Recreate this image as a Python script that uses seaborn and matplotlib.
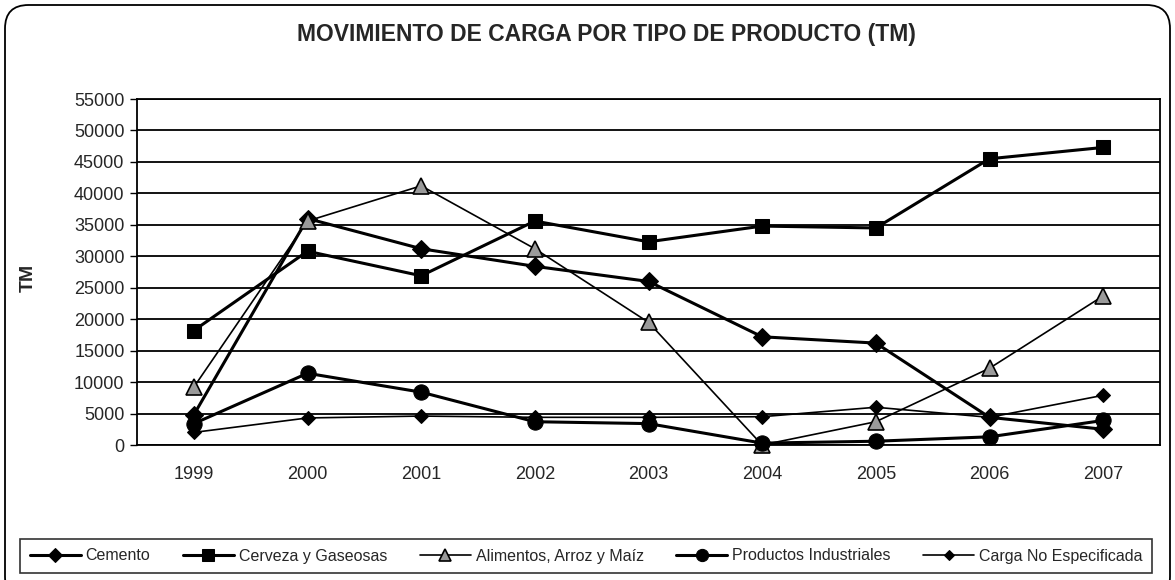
import numpy as np
import seaborn as sns
import matplotlib.pyplot as plt
from matplotlib.patches import FancyBboxPatch
from matplotlib.ticker import FixedLocator

sns.set_style("white")
plt.rcParams["font.family"] = ["Liberation Sans", "DejaVu Sans"]

years = ["1999", "2000", "2001", "2002", "2003", "2004", "2005", "2006", "2007"]
cemento = [4800, 36000, 31200, 28400, 26000, 17200, 16200, 4400, 2500]
cerveza = [18200, 30800, 26900, 35600, 32300, 34800, 34500, 45500, 47300]
alimentos = [9200, 35600, 41200, 31200, 19500, 0, 3700, 12200, 23700]
productos = [3400, 11400, 8400, 3700, 3400, 300, 600, 1300, 3900]
carga = [2000, 4300, 4600, 4400, 4400, 4500, 6000, 4400, 7900]

series = [
    ("Cemento", cemento, dict(marker="D", ms=9, lw=2.2, mfc="black", mec="black")),
    ("Cerveza y Gaseosas", cerveza, dict(marker="s", ms=10, lw=2.2, mfc="black", mec="black")),
    ("Alimentos, Arroz y Maíz", alimentos, dict(marker="^", ms=11, lw=1.2, mfc="#9a9a9a", mec="black", mew=1.2)),
    ("Productos Industriales", productos, dict(marker="o", ms=11, lw=2.2, mfc="black", mec="black")),
    ("Carga No Especificada", carga, dict(marker="D", ms=7, lw=1.2, mfc="black", mec="black")),
]

fig = plt.figure(figsize=(11.75, 5.8), dpi=100)
ax = fig.add_axes([137 / 1175, 1 - 445 / 580, 1023 / 1175, 346 / 580])

x = np.arange(len(years))
for name, vals, style in series:
    sns.lineplot(x=x, y=vals, ax=ax, color="black", label=name, clip_on=False,
                 zorder=3, **style)
handles, labels = ax.get_legend_handles_labels()
ax.get_legend().remove()

ax.set_xlim(-0.5, len(years) - 0.5)
ax.set_ylim(0, 55000)
ax.set_yticks(np.arange(0, 55001, 5000))
ax.set_yticklabels([str(v) for v in range(0, 55001, 5000)], fontsize=13)
ax.set_xticks(x)
ax.set_xticklabels(years, fontsize=13)
ax.xaxis.set_minor_locator(FixedLocator(np.arange(-0.5, len(years), 1)))
ax.tick_params(axis="x", which="major", length=0, pad=15)
ax.tick_params(axis="x", which="minor", length=5, width=1, color="black", direction="out")
ax.tick_params(axis="y", length=5, width=1, color="black", direction="out", pad=4, left=True)
ax.yaxis.grid(True, color="black", lw=1.3)
ax.set_axisbelow(True)
for s in ax.spines.values():
    s.set_color("black")
    s.set_linewidth(1.3)
ax.set_xlabel("")
ax.set_ylabel("")

fig.text(0.516, 1 - 34 / 580, "MOVIMIENTO DE CARGA POR TIPO DE PRODUCTO (TM)",
         ha="center", va="center", fontsize=16.5, fontweight="bold")
fig.text(28 / 1175, 1 - 278 / 580, "TM", rotation=90, ha="center", va="center",
         fontsize=14, fontweight="bold")

leg = fig.legend(handles, labels, loc="center", ncol=5, mode="expand",
                 bbox_to_anchor=(12 / 1175, 1 - 577 / 580, 1148 / 1175, 42 / 580),
                 frameon=True, fancybox=False, edgecolor="black", fontsize=11.5,
                 handlelength=3.2, handletextpad=0.3, borderpad=0.6, columnspacing=1.0,
                 markerscale=0.8)
leg.get_frame().set_linewidth(1.2)

border = FancyBboxPatch((5 / 1175, -20 / 580), 1165 / 1175, 595 / 580,
                        boxstyle="round,pad=0,rounding_size=0.02",
                        transform=fig.transFigure, fill=False, ec="black", lw=1.3,
                        mutation_aspect=1175 / 580)
fig.patches.append(border)

fig.savefig("out.png", dpi=100)
